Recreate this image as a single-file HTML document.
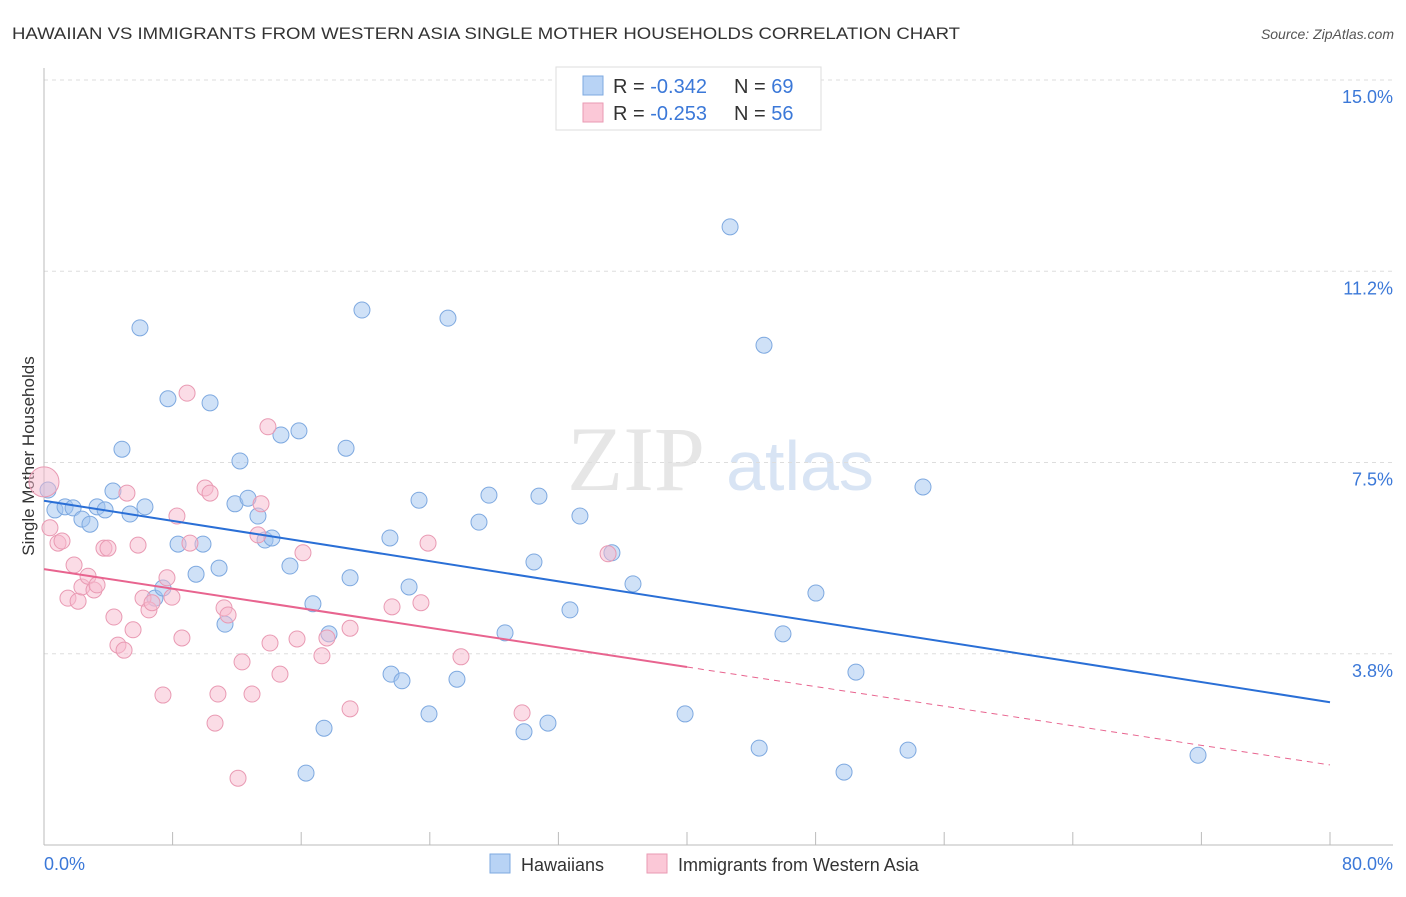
<!DOCTYPE html>
<html><head><meta charset="utf-8"><style>
body{margin:0;background:#fff;font-family:"Liberation Sans",sans-serif;}
</style></head><body>
<svg id="chart" width="1406" height="892" xmlns="http://www.w3.org/2000/svg">
<text x="12" y="39" font-size="17" fill="#333" textLength="948" lengthAdjust="spacingAndGlyphs">HAWAIIAN VS IMMIGRANTS FROM WESTERN ASIA SINGLE MOTHER HOUSEHOLDS CORRELATION CHART</text>
<text x="1394" y="39" font-size="14" fill="#555" font-style="italic" text-anchor="end">Source: ZipAtlas.com</text>
<text x="636" y="490" font-size="92" fill="#e6e6e6" font-family="Liberation Serif" text-anchor="middle">ZIP</text>
<text x="800" y="490" font-size="70" fill="#d8e4f4" text-anchor="middle">atlas</text>
<text transform="translate(34,456) rotate(-90)" font-size="17" fill="#333" text-anchor="middle">Single Mother Households</text>
<g id="grid"></g><g id="pts"></g><g id="lines"></g>
<g>
<rect x="556" y="67" width="265" height="63" fill="#fff" stroke="#ddd"/>
<rect x="583" y="76" width="20" height="19" fill="#b8d3f5" stroke="#7ea9e0"/>
<rect x="583" y="103" width="20" height="19" fill="#fbc8d7" stroke="#e99ab3"/>
<text x="613" y="93" font-size="20" fill="#333">R = <tspan fill="#3b78d8">-0.342</tspan></text>
<text x="734" y="93" font-size="20" fill="#333">N = <tspan fill="#3b78d8">69</tspan></text>
<text x="613" y="120" font-size="20" fill="#333">R = <tspan fill="#3b78d8">-0.253</tspan></text>
<text x="734" y="120" font-size="20" fill="#333">N = <tspan fill="#3b78d8">56</tspan></text>
</g>
<g>
<rect x="490" y="854" width="20" height="19" fill="#b8d3f5" stroke="#7ea9e0"/>
<text x="521" y="871" font-size="18" fill="#333">Hawaiians</text>
<rect x="647" y="854" width="20" height="19" fill="#fbc8d7" stroke="#e99ab3"/>
<text x="678" y="871" font-size="18" fill="#333">Immigrants from Western Asia</text>
</g>
<text x="44" y="870" font-size="18" fill="#3b78d8">0.0%</text>
<text x="1393" y="870" font-size="18" fill="#3b78d8" text-anchor="end">80.0%</text>
</svg>
<script>
const yTicks=[15.0,11.25,7.5,3.75];
const yTickLabels=["15.0%","11.2%","7.5%","3.8%"];
const blueX=[0.25,0.68,1.31,1.81,2.36,2.86,3.30,3.80,4.29,4.85,5.35,5.97,6.28,6.90,7.40,7.71,8.34,9.46,9.89,10.33,10.89,11.26,11.88,12.19,12.69,13.31,13.75,14.18,14.74,15.30,15.86,16.73,16.30,17.42,17.73,18.79,19.04,19.78,21.52,21.59,22.27,22.71,23.33,23.95,25.13,25.69,27.06,27.68,28.68,29.86,30.48,30.79,31.35,32.72,33.34,35.33,36.64,39.88,42.68,44.49,44.79,45.97,48.02,49.77,50.51,53.75,54.68,71.79];
const blueY=[6.96,6.57,6.63,6.61,6.39,6.29,6.63,6.57,6.94,7.76,6.49,10.14,6.63,4.84,5.04,8.75,5.90,5.31,5.90,8.67,5.43,4.33,6.69,7.53,6.80,6.45,5.98,6.02,8.04,5.47,8.12,4.73,1.41,2.29,4.14,7.78,5.24,10.49,6.02,3.35,3.22,5.06,6.76,2.57,10.33,3.25,6.33,6.86,4.16,2.22,5.55,6.84,2.39,4.61,6.45,5.73,5.12,2.57,12.12,1.90,9.80,4.14,4.94,1.43,3.39,1.86,7.02,1.76];
const pinkX=[0,0.37,0.87,1.12,1.49,1.87,2.12,2.36,2.74,3.11,3.30,3.73,3.98,4.35,4.60,4.98,5.16,5.54,5.85,6.16,6.53,6.72,7.40,7.65,7.96,8.27,8.58,8.90,9.08,10.02,10.33,10.64,10.82,11.20,11.45,12.07,12.32,12.94,13.31,13.50,13.93,14.06,14.68,15.74,16.11,17.29,17.60,19.04,19.04,21.65,23.45,23.89,25.94,29.74,35.09];
const pinkY=[7.12,6.22,5.92,5.96,4.84,5.49,4.78,5.06,5.27,5.00,5.10,5.82,5.82,4.47,3.92,3.82,6.90,4.22,5.88,4.84,4.61,4.75,2.94,5.24,4.86,6.45,4.06,8.86,5.92,7.00,6.90,2.39,2.96,4.65,4.51,1.31,3.59,2.96,6.08,6.69,8.20,3.96,3.35,4.04,5.73,3.71,4.06,4.25,2.67,4.67,4.75,5.92,3.69,2.59,5.71];
const blueTrend=[6.75,2.80];
const pinkTrend=[5.41,1.57];
const pinkSolidEnd=40;
const X=v=>44+v*(1286/80);
const Y=v=>845-v*51.0;
const NS="http://www.w3.org/2000/svg";
function mk(t,a,p){const e=document.createElementNS(NS,t);for(const k in a)e.setAttribute(k,a[k]);p.appendChild(e);return e;}
const grid=document.getElementById('grid');
yTicks.forEach((v,i)=>{
 const l=mk('line',{x1:44,x2:1393,y1:Y(v),y2:Y(v),stroke:'#ddd','stroke-dasharray':'4,4'},grid);
 
 
 const t=mk('text',{x:1393,y:Y(v)+23,'font-size':18,fill:'#3b78d8','text-anchor':'end'},grid);
 t.textContent=yTickLabels[i];
 
 
});
const ax=mk('line',{x1:44,x2:1393,y1:845,y2:845,stroke:'#bbb'},grid);


const ay=mk('line',{x1:44,x2:44,y1:68,y2:845,stroke:'#bbb'},grid);


for(let i=1;i<=10;i++){const tk=mk('line',{x1:X(i*8),x2:X(i*8),y1:832,y2:845,stroke:'#bbb'},grid);
 
 }
const pts=document.getElementById('pts');
blueX.forEach((x,i)=>{const c=mk('circle',{cx:X(x),cy:Y(blueY[i]),r:8,fill:'rgba(160,195,240,0.5)',stroke:'#7ea9e0','stroke-width':1},pts);
 
 });
pinkX.forEach((x,i)=>{const c=mk('circle',{cx:X(x),cy:Y(pinkY[i]),r:i==0?15:8,fill:'rgba(248,185,205,0.5)',stroke:'#e99ab3','stroke-width':1},pts);
 
 });
const lines=document.getElementById('lines');
const bl=mk('line',{x1:X(0),y1:Y(blueTrend[0]),x2:X(80),y2:Y(blueTrend[1]),stroke:'#2a6fd6','stroke-width':2},lines);


const pm=pinkTrend[0]+(pinkTrend[1]-pinkTrend[0])*pinkSolidEnd/80;
const pl=mk('line',{x1:X(0),y1:Y(pinkTrend[0]),x2:X(pinkSolidEnd),y2:Y(pm),stroke:'#e8648f','stroke-width':2},lines);


const pd=mk('line',{x1:X(pinkSolidEnd),y1:Y(pm),x2:X(80),y2:Y(pinkTrend[1]),stroke:'#e8648f','stroke-width':1,'stroke-dasharray':'6,5'},lines);


</script>
</body></html>
